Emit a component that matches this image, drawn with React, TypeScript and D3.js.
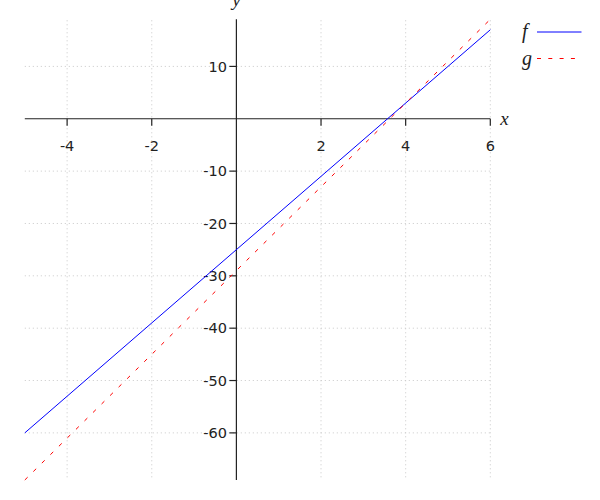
import React from "react";
import * as d3 from "d3";

const xDomain = [-5, 6];
const yDomain = [-69, 19];
const xTicks = [-4, -2, 2, 4, 6];
const yTicks = [10, -10, -20, -30, -40, -50, -60];
const xValues = [-5, 6];
const fValues = [-60, 17];
const gValues = [-69, 19];
const seriesNames = ["f", "g"];
const seriesColors = ["#0000ff", "#ff0000"];

export default function App() {
  const W = 600;
  const H = 500;
  const x = d3.scaleLinear().domain(xDomain).range([24.8, 490.3]);
  const y = d3.scaleLinear().domain(yDomain).range([480, 19.3]);
  const x0 = x(0);
  const y0 = y(0);

  const line = d3
    .line<[number, number]>()
    .x((d) => x(d[0]))
    .y((d) => y(d[1]));

  const fPts = xValues.map((v, i) => [v, fValues[i]] as [number, number]);
  const gPts = xValues.map((v, i) => [v, gValues[i]] as [number, number]);

  const tickFont = "DejaVu Sans";
  const labelFont = "Times New Roman";

  return (
    <svg
      width={W}
      height={H}
      style={{ position: "absolute", left: 0, top: 0, background: "#fff" }}
    >
      {/* grid */}
      <g stroke="#c8c8c8" strokeWidth={1} strokeDasharray="1,3" fill="none">
        {xTicks.map((t) => (
          <line key={"gx" + t} x1={x(t)} x2={x(t)} y1={y(yDomain[1]) + 1} y2={y(yDomain[0])} />
        ))}
        {yTicks.map((t) => (
          <line key={"gy" + t} x1={x(xDomain[0])} x2={x(xDomain[1])} y1={y(t)} y2={y(t)} />
        ))}
      </g>

      {/* axes */}
      <g stroke="#222" strokeWidth={1.2} fill="none">
        <line x1={x(xDomain[0])} x2={x(xDomain[1])} y1={y0} y2={y0} />
        <line x1={x0} x2={x0} y1={y(yDomain[1])} y2={y(yDomain[0])} />
        {xTicks.map((t) => (
          <line key={"tx" + t} x1={x(t)} x2={x(t)} y1={y0} y2={y0 + 7} />
        ))}
        {yTicks.map((t) => (
          <line key={"ty" + t} x1={x0 - 7} x2={x0} y1={y(t)} y2={y(t)} />
        ))}
      </g>

      {/* tick labels */}
      <g fill="#222" fontFamily={tickFont} fontSize={14.5}>
        {xTicks.map((t) => (
          <text key={"lx" + t} x={x(t)} y={y0 + 32} textAnchor="middle">
            {String(t)}
          </text>
        ))}
        {yTicks.map((t) => (
          <text key={"ly" + t} x={x0 - 9.5} y={y(t) + 5.2} textAnchor="end">
            {String(t)}
          </text>
        ))}
      </g>

      {/* axis labels */}
      <text x={x0} y={6} textAnchor="middle" fill="#222" fontFamily={labelFont} fontStyle="italic" fontSize={19}>
        y
      </text>
      <text x={x(xDomain[1]) + 10} y={y0 + 6} fill="#222" fontFamily={labelFont} fontStyle="italic" fontSize={19}>
        x
      </text>

      {/* series */}
      <path d={line(fPts) || ""} stroke={seriesColors[0]} strokeWidth={1} fill="none" />
      <path d={line(gPts) || ""} stroke={seriesColors[1]} strokeWidth={1} strokeDasharray="4,8" fill="none" />

      {/* legend */}
      {seriesNames.map((name, i) => {
        const ly = 32 + i * 26.5;
        return (
          <g key={name}>
            <text x={522} y={ly + 6} fill="#222" fontFamily={labelFont} fontStyle="italic" fontSize={20}>
              {name}
            </text>
            <line
              x1={537}
              x2={581.5}
              y1={ly}
              y2={ly}
              stroke={seriesColors[i]}
              strokeWidth={1}
              strokeDasharray={i === 1 ? "4,7.3" : undefined}
            />
          </g>
        );
      })}
    </svg>
  );
}
